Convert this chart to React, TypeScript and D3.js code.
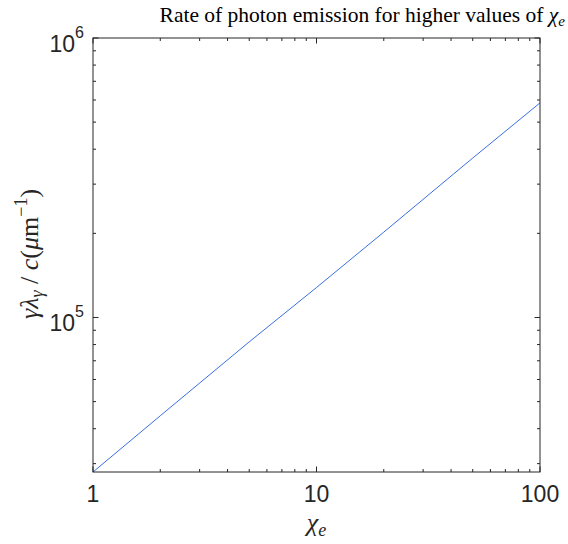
import React from "react";
import * as d3 from "d3";

// Photon emission rate versus quantum parameter chi_e
const chiValues = [1, 2, 5, 10, 20, 50, 100];
const rateValues = [28000, 44500, 81800, 128000, 202000, 372000, 586000];
const xTickValues = [1, 10, 100];
const yTickExponents = [5, 6];

const W = 568;
const H = 544;
const M = { left: 93, right: 540, top: 38, bottom: 472 };
const INK = "#262626";
const SERIF = "'Liberation Serif', 'DejaVu Serif', serif";
const SANS = "'Liberation Sans', Arial, sans-serif";

export default function App() {
  const x = d3.scaleLog().domain([1, 100]).range([M.left, M.right]);
  const y = d3.scaleLog().domain([28000, 1e6]).range([M.bottom, M.top]);

  const line = d3
    .line<number>()
    .x((_, i) => x(chiValues[i]))
    .y((d) => y(d));

  const xMinor: number[] = [];
  for (const dec of [1, 10]) for (let k = 2; k <= 9; k++) xMinor.push(dec * k);
  const yMinor: number[] = [];
  for (const dec of [1e4, 1e5]) for (let k = 2; k <= 9; k++) {
    const v = dec * k;
    if (v >= 28000 && v <= 1e6) yMinor.push(v);
  }

  const major = 5.5;
  const minor = 3;

  return (
    <svg width={W} height={H} style={{ position: "absolute", left: 0, top: 0 }}>
      <rect width={W} height={H} fill="#ffffff" />
      <text x={565} y={22} textAnchor="end" fontFamily={SERIF} fontSize={21.5} fill="#000">
        Rate of photon emission for higher values of{" "}
        <tspan fontStyle="italic">χ</tspan>
        <tspan fontStyle="italic" fontSize={15} dy={4}>e</tspan>
      </text>

      <path d={line(rateValues) || ""} fill="none" stroke="#3b6fe3" strokeWidth={1} />

      <rect
        x={M.left}
        y={M.top}
        width={M.right - M.left}
        height={M.bottom - M.top}
        fill="none"
        stroke={INK}
        strokeWidth={1}
      />

      {/* x ticks, bottom and top */}
      {xTickValues.map((v) => (
        <g key={"xt" + v}>
          <line x1={x(v)} x2={x(v)} y1={M.bottom} y2={M.bottom - major} stroke={INK} />
          <line x1={x(v)} x2={x(v)} y1={M.top} y2={M.top + major} stroke={INK} />
          <text x={x(v)} y={502} textAnchor="middle" fontFamily={SANS} fontSize={23} fill={INK}>
            {v}
          </text>
        </g>
      ))}
      {xMinor.map((v) => (
        <g key={"xm" + v}>
          <line x1={x(v)} x2={x(v)} y1={M.bottom} y2={M.bottom - minor} stroke={INK} />
          <line x1={x(v)} x2={x(v)} y1={M.top} y2={M.top + minor} stroke={INK} />
        </g>
      ))}

      {/* y ticks, left and right */}
      {yTickExponents.map((e) => {
        const v = Math.pow(10, e);
        return (
          <g key={"yt" + e}>
            <line x1={M.left} x2={M.left + major} y1={y(v)} y2={y(v)} stroke={INK} />
            <line x1={M.right} x2={M.right - major} y1={y(v)} y2={y(v)} stroke={INK} />
            <text x={84} y={y(v) + 13.5} textAnchor="end" fontFamily={SANS} fontSize={23} fill={INK}>
              10
              <tspan fontSize={16} dy={-14}>{e}</tspan>
            </text>
          </g>
        );
      })}
      {yMinor.map((v) => (
        <g key={"ym" + v}>
          <line x1={M.left} x2={M.left + minor} y1={y(v)} y2={y(v)} stroke={INK} />
          <line x1={M.right} x2={M.right - minor} y1={y(v)} y2={y(v)} stroke={INK} />
        </g>
      ))}

      {/* axis titles */}
      <text x={(M.left + M.right) / 2} y={531} textAnchor="middle" fontFamily={SERIF} fontSize={26} fill={INK}>
        <tspan fontStyle="italic">χ</tspan>
        <tspan fontStyle="italic" fontSize={18} dy={5}>e</tspan>
      </text>
      <text
        transform={`translate(38, 254) rotate(-90)`}
        textAnchor="middle"
        fontFamily={SERIF}
        fontSize={26}
        fill={INK}
      >
        <tspan fontStyle="italic">γλ</tspan>
        <tspan fontStyle="italic" fontSize={18} dy={5}>γ</tspan>
        <tspan dy={-5}> / </tspan>
        <tspan fontStyle="italic">c</tspan>
        <tspan>(</tspan>
        <tspan fontStyle="italic">μ</tspan>
        <tspan>m</tspan>
        <tspan fontSize={18} dy={-11}>−1</tspan>
        <tspan dy={11}>)</tspan>
      </text>
    </svg>
  );
}
